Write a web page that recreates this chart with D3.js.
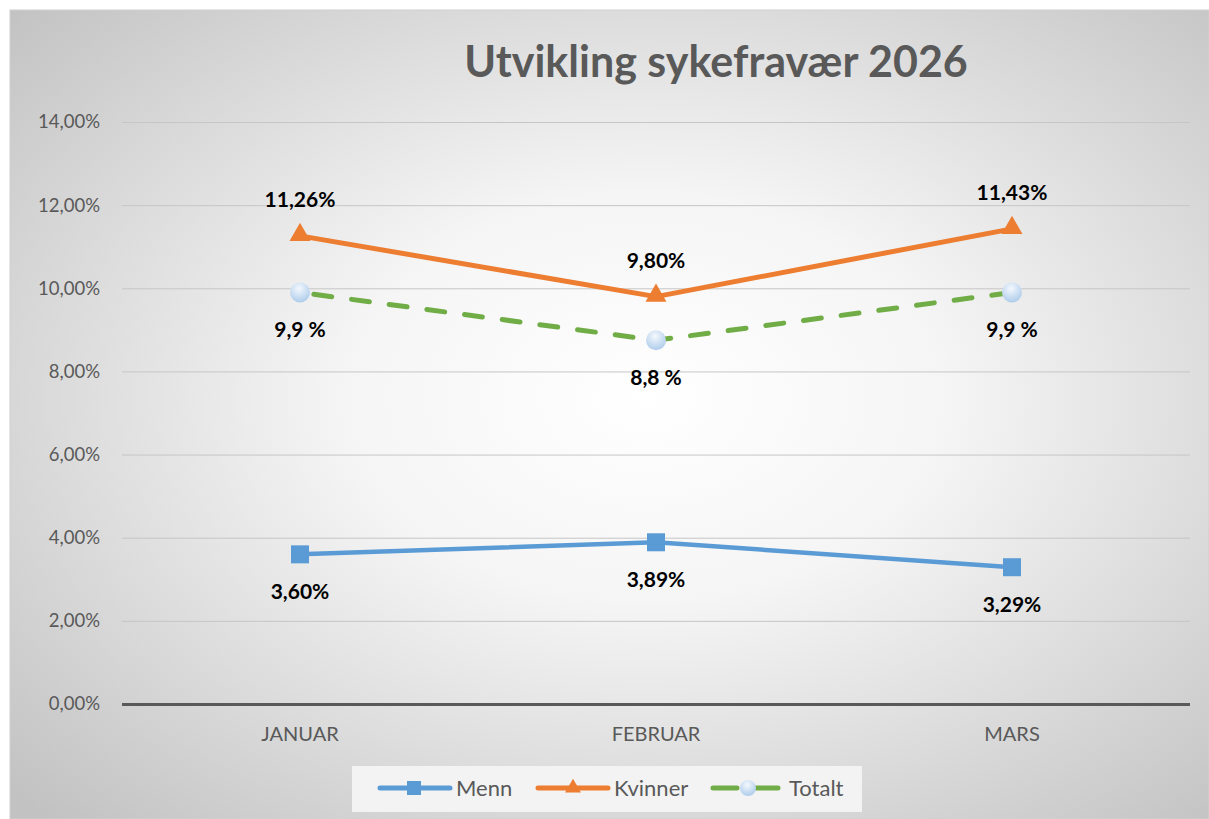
<!DOCTYPE html>
<meta charset="utf-8">
<style>
body { margin: 0; background: #fff; }
svg { display: block; }
text { font-family: Lato, "Open Sans", sans-serif; }
.tick text { fill: #595959; font-size: 18.5px; }
.lbl { font-weight: bold; font-size: 21px; fill: #000; text-anchor: middle; }
</style>
<body>
<script src="https://d3js.org/d3.v7.min.js"></script>
<script>

var months = ["JANUAR", "FEBRUAR", "MARS"];
var menn = [3.60, 3.89, 3.29];
var kvinner = [11.26, 9.80, 11.43];
var totalt = [9.9, 8.75, 9.9];
var yTicks = [0, 2, 4, 6, 8, 10, 12, 14];

var W = 1209, H = 819;
var box = {x: 10, y: 10};
var margin = {top: 122, right: 19, bottom: 115, left: 122};

var svg = d3.select("body").append("svg")
    .attr("width", W)
    .attr("height", H);

var defs = svg.append("defs");

var bg = defs.append("radialGradient")
    .attr("id", "bg")
    .attr("cx", "0.53").attr("cy", "0.48").attr("r", "0.72");
bg.append("stop").attr("offset", "0").attr("stop-color", "#ffffff");
bg.append("stop").attr("offset", "0.35").attr("stop-color", "#f5f5f5");
bg.append("stop").attr("offset", "1").attr("stop-color", "#c2c2c2");

var ball = defs.append("radialGradient")
    .attr("id", "ball")
    .attr("cx", "0.45").attr("cy", "0.3").attr("r", "0.75");
ball.append("stop").attr("offset", "0").attr("stop-color", "#f4f8fd");
ball.append("stop").attr("offset", "1").attr("stop-color", "#a9c9ea");

// link underline peeking at the top
svg.append("line")
    .attr("x1", 10).attr("x2", 271)
    .attr("y1", 11).attr("y2", 11)
    .attr("stroke", "#2f5597").attr("stroke-width", 1.5);

svg.append("rect")
    .attr("x", box.x).attr("y", box.y)
    .attr("width", W - box.x).attr("height", H - box.y)
    .attr("fill", "url(#bg)")
    .attr("stroke", "#d0d0d0").attr("stroke-width", 1);

var x = d3.scaleBand()
    .domain(months)
    .range([margin.left, W - margin.right]);

var y = d3.scaleLinear()
    .domain([0, 14])
    .range([H - margin.bottom, margin.top]);

var fmtAxis = function(d) { return d3.format(".2f")(d).replace(".", ",") + "%"; };
var fmt2 = function(d) { return d3.format(".2f")(d).replace(".", ",") + "%"; };
var fmt1 = function(d) { return d3.format(".1f")(d).replace(".", ",") + " %"; };

// gridlines + y labels
var yAxis = svg.append("g")
    .attr("transform", "translate(" + margin.left + ",0)")
    .call(d3.axisLeft(y).tickValues(yTicks).tickFormat(fmtAxis)
      .tickSize(-(W - margin.left - margin.right)).tickPadding(22));
yAxis.select(".domain").remove();
yAxis.selectAll(".tick line")
    .attr("stroke", function(d) { return d === 0 ? "#595959" : "#c6c6c6"; })
    .attr("stroke-width", function(d) { return d === 0 ? 3 : 1; });

var xAxis = svg.append("g")
    .attr("transform", "translate(0," + (H - margin.bottom) + ")")
    .call(d3.axisBottom(x).tickSize(0).tickPadding(23));
xAxis.select(".domain").remove();
xAxis.selectAll(".tick text").style("font-size", "20px");

var cx = function(i) { return x(months[i]) + x.bandwidth() / 2; };
var line = d3.line()
    .x(function(d, i) { return cx(i); })
    .y(function(d) { return y(d); });

// Totalt
svg.append("path")
    .datum(totalt)
    .attr("d", line)
    .attr("fill", "none")
    .attr("stroke", "#70ad47")
    .attr("stroke-width", 5)
    .attr("stroke-dasharray", "18,20")
    .attr("stroke-dashoffset", -14)
    .attr("stroke-linecap", "round");

// Kvinner
svg.append("path")
    .datum(kvinner)
    .attr("d", line)
    .attr("fill", "none")
    .attr("stroke", "#ed7d31")
    .attr("stroke-width", 5)
    .attr("stroke-linejoin", "round");

// Menn
svg.append("path")
    .datum(menn)
    .attr("d", line)
    .attr("fill", "none")
    .attr("stroke", "#5b9bd5")
    .attr("stroke-width", 4.5)
    .attr("stroke-linejoin", "round");

var tri = d3.symbol().type(d3.symbolTriangle).size(190);

svg.selectAll(".mk").data(totalt).enter().append("circle")
    .attr("cx", function(d, i) { return cx(i); })
    .attr("cy", function(d) { return y(d); })
    .attr("r", 10)
    .attr("fill", "url(#ball)");

svg.selectAll(".mt").data(kvinner).enter().append("path")
    .attr("d", tri)
    .attr("transform", function(d, i) { return "translate(" + cx(i) + "," + (y(d) - 1) + ")"; })
    .attr("fill", "#ed7d31");

svg.selectAll(".ms").data(menn).enter().append("rect")
    .attr("x", function(d, i) { return cx(i) - 9; })
    .attr("y", function(d) { return y(d) - 9; })
    .attr("width", 18).attr("height", 18)
    .attr("fill", "#5b9bd5");

// data labels
svg.selectAll(".lk").data(kvinner).enter().append("text")
    .attr("class", "lbl")
    .attr("x", function(d, i) { return cx(i); })
    .attr("y", function(d) { return y(d) - 29; })
    .text(fmt2);

svg.selectAll(".lt").data(totalt).enter().append("text")
    .attr("class", "lbl")
    .attr("x", function(d, i) { return cx(i); })
    .attr("y", function(d) { return y(d) + 45; })
    .text(fmt1);

svg.selectAll(".lm").data(menn).enter().append("text")
    .attr("class", "lbl")
    .attr("x", function(d, i) { return cx(i); })
    .attr("y", function(d) { return y(d) + 45; })
    .text(fmt2);

// title
svg.append("text")
    .attr("x", 716).attr("y", 77)
    .attr("text-anchor", "middle")
    .attr("font-size", 43)
    .attr("font-weight", "bold")
    .attr("fill", "#595959")
    .text("Utvikling sykefravær 2026");

// legend
var lg = svg.append("g").attr("transform", "translate(352,766)");
lg.append("rect")
    .attr("width", 510).attr("height", 46)
    .attr("fill", "#f3f3f3");

var items = [
  {name: "Menn", color: "#5b9bd5", x: 28, dash: null, mark: "sq"},
  {name: "Kvinner", color: "#ed7d31", x: 186, dash: null, mark: "tri"},
  {name: "Totalt", color: "#70ad47", x: 361, dash: "24,17", mark: "ball"}
];

var li = lg.selectAll(".li").data(items).enter().append("g")
    .attr("transform", function(d) { return "translate(" + d.x + ",22)"; });

li.append("line")
    .attr("x1", 0).attr("x2", 70)
    .attr("stroke", function(d) { return d.color; })
    .attr("stroke-width", 5)
    .attr("stroke-linecap", "round")
    .attr("stroke-dasharray", function(d) { return d.dash; });

li.each(function(d) {
  var g = d3.select(this);
  if (d.mark === "sq") g.append("rect").attr("x", 27).attr("y", -7).attr("width", 14).attr("height", 14).attr("fill", d.color);
  if (d.mark === "tri") g.append("path").attr("d", d3.symbol().type(d3.symbolTriangle).size(110)).attr("transform", "translate(35,0)").attr("fill", d.color);
  if (d.mark === "ball") g.append("circle").attr("cx", 35).attr("r", 8).attr("fill", "url(#ball)");
});

li.append("text")
    .attr("x", 76).attr("y", 8)
    .attr("font-size", 22)
    .attr("fill", "#595959")
    .text(function(d) { return d.name; });

</script>
